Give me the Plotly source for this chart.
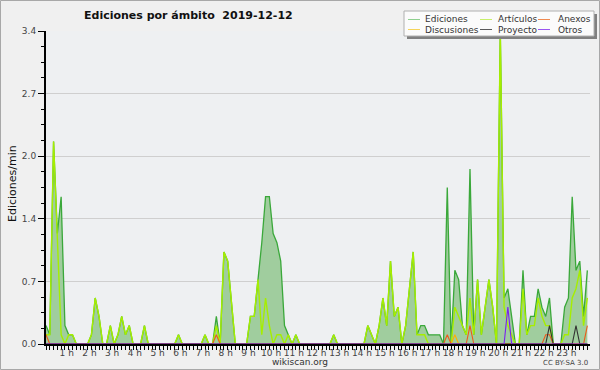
import plotly.graph_objects as go

# ---- data (10-minute steps, 0:00 .. 23:50) ----
ediciones = [0.2, 0.1, 2.2, 1.2, 1.6, 0.2, 0.1, 0.1, 0, 0, 0, 0,
             0.1, 0.5, 0.3, 0, 0, 0.2, 0, 0.1, 0.3, 0.1, 0.2, 0,
             0, 0, 0.2, 0, 0, 0, 0, 0, 0, 0, 0, 0.1,
             0, 0, 0, 0, 0, 0, 0.1, 0, 0, 0.3, 0, 1.0,
             0.9, 0.4, 0, 0, 0, 0, 0.3, 0.3, 0.7, 1.1, 1.6, 1.6,
             1.2, 1.1, 0.9, 0.2, 0.1, 0, 0.1, 0, 0, 0, 0, 0,
             0, 0, 0, 0, 0.1, 0, 0, 0, 0, 0, 0, 0,
             0, 0.2, 0.1, 0, 0.2, 0.5, 0.2, 0.9, 0.3, 0.4, 0, 0.2,
             0.6, 1.0, 0.1, 0.2, 0.2, 0.1, 0.1, 0.1, 0.1, 0, 1.7, 0,
             0.8, 0.7, 0.2, 0.1, 1.9, 0.1, 0.7, 0.1, 0.4, 0.7, 0.4, 0,
             3.4, 0.5, 0.6, 0.3, 0, 0, 0.8, 0.1, 0.3, 0.3, 0.6, 0.4,
             0.3, 0.5, 0, 0, 0, 0.4, 0.5, 1.6, 0.8, 0.9, 0.3, 0.8]
articulos = [0.1, 0.1, 2.2, 1.1, 0.1, 0, 0.1, 0.1, 0, 0, 0, 0,
             0.1, 0.5, 0.3, 0, 0, 0.2, 0, 0.1, 0.3, 0.1, 0.2, 0,
             0, 0, 0.2, 0, 0, 0, 0, 0, 0, 0, 0, 0.1,
             0, 0, 0, 0, 0, 0, 0.1, 0, 0, 0.2, 0, 1.0,
             0.9, 0.4, 0, 0, 0, 0, 0.3, 0.3, 0.7, 0.1, 0.5, 0.2,
             0, 0.1, 0.1, 0, 0.1, 0, 0.1, 0, 0, 0, 0, 0,
             0, 0, 0, 0, 0.1, 0, 0, 0, 0, 0, 0, 0,
             0, 0.2, 0.1, 0, 0.2, 0.5, 0.2, 0.9, 0.3, 0.4, 0, 0.2,
             0.6, 1.0, 0.1, 0.1, 0.1, 0, 0, 0, 0, 0, 0, 0,
             0.4, 0.3, 0.2, 0.1, 0.5, 0.1, 0.7, 0.1, 0.4, 0.7, 0.4, 0,
             3.4, 0.4, 0.2, 0.1, 0, 0, 0.6, 0.1, 0.2, 0.2, 0.5, 0.3,
             0.2, 0.2, 0, 0, 0, 0.1, 0.1, 0.5, 0.6, 0.8, 0.2, 0.5]
anexos = [0.0] * 144
for k, v in {0: 0.1, 45: 0.1, 106: 0.1, 112: 0.2, 132: 0.1, 133: 0.1, 143: 0.2}.items():
    anexos[k] = v
discusiones = [0.0] * 144
for k, v in {108: 0.1}.items():
    discusiones[k] = v
proyecto = [0.0] * 144
for k, v in {133: 0.2, 140: 0.2}.items():
    proyecto[k] = v
otros = [0.0] * 144
for k, v in {122: 0.4}.items():
    otros[k] = v

hours = [i / 6 for i in range(144)]
hour_ticks = list(range(1, 24))
hour_labels = [f"{h} h" for h in hour_ticks]
y_ticks = [0, 0.68, 1.36, 2.04, 2.72, 3.4]
y_labels = ["0.0", "0.7", "1.4", "2.0", "2.7", "3.4"]

legend_items = [("Ediciones", "#8fd08f"), ("Artículos", "#c8f06a"), ("Anexos", "#f08a50"),
                ("Discusiones", "#f5d45a"), ("Proyecto", "#5a5a5a"), ("Otros", "#9a55f0")]

FONT = "DejaVu Sans"
W, H = 600, 370
L, R, T, B = 46, 10, 31, 26
PW, PH = W - L - R, H - T - B


def px(x):
    return (x - L) / PW


def py(y):
    return (H - B - y) / PH


fig = go.Figure()
fig.add_trace(go.Scatter(x=hours, y=ediciones, mode="lines", fill="tozeroy",
                         line=dict(color="#3aa83a", width=1.3), fillcolor="#a0cd9e",
                         name="Ediciones", showlegend=False))
fig.add_trace(go.Scatter(x=hours, y=articulos, mode="lines",
                         line=dict(color="#a6ee00", width=1.4),
                         name="Artículos", showlegend=False))
fig.add_trace(go.Scatter(x=hours, y=discusiones, mode="lines",
                         line=dict(color="#ffb000", width=1.1),
                         name="Discusiones", showlegend=False))
fig.add_trace(go.Scatter(x=hours, y=anexos, mode="lines",
                         line=dict(color="#ee5a1a", width=1.1),
                         name="Anexos", showlegend=False))
fig.add_trace(go.Scatter(x=hours, y=proyecto, mode="lines",
                         line=dict(color="#333333", width=1.1),
                         name="Proyecto", showlegend=False))
fig.add_trace(go.Scatter(x=hours, y=otros, mode="lines",
                         line=dict(color="#7a22ee", width=1.1),
                         name="Otros", showlegend=False))

shapes = []
annotations = []
# outer border
shapes.append(dict(type="rect", xref="paper", yref="paper", x0=px(0.5), x1=px(W - 0.5),
                   y0=py(H - 0.5), y1=py(0.5), line=dict(color="#a8a8a8", width=1),
                   fillcolor="rgba(0,0,0,0)", layer="above"))
# legend box with shadow
shapes.append(dict(type="rect", xref="paper", yref="paper", x0=px(407), x1=px(597),
                   y0=py(39), y1=py(14), line=dict(width=0), fillcolor="#808080", layer="above"))
shapes.append(dict(type="rect", xref="paper", yref="paper", x0=px(404), x1=px(594),
                   y0=py(36), y1=py(11), line=dict(color="#b0b0b0", width=1),
                   fillcolor="#fbfbfb", layer="above"))
cols = [(408, 423), (480, 496), (538, 556)]
rows = [19.5, 29.5]
for idx, (label, color) in enumerate(legend_items):
    r, c = divmod(idx, 3)
    lx, tx = cols[c]
    yy = rows[r]
    shapes.append(dict(type="line", xref="paper", yref="paper", x0=px(lx), x1=px(lx + 12),
                       y0=py(yy), y1=py(yy), line=dict(color=color, width=1), layer="above"))
    annotations.append(dict(text=label, xref="paper", yref="paper", x=px(tx), y=py(yy),
                            xanchor="left", yanchor="middle", showarrow=False,
                            font=dict(family=FONT, size=9, color="#333333")))

annotations.append(dict(text="<b>Ediciones por ámbito\u00a0\u00a02019-12-12</b>", xref="paper", yref="paper",
                        x=px(188), y=py(15), xanchor="center", yanchor="middle", showarrow=False,
                        font=dict(family=FONT, size=11, color="#111111")))
annotations.append(dict(text="wikiscan.org", xref="paper", yref="paper", x=px(300), y=py(362),
                        xanchor="center", yanchor="middle", showarrow=False,
                        font=dict(family=FONT, size=9, color="#333333")))
annotations.append(dict(text="CC BY-SA 3.0", xref="paper", yref="paper", x=px(590), y=py(363),
                        xanchor="right", yanchor="middle", showarrow=False,
                        font=dict(family=FONT, size=7, color="#444444")))
annotations.append(dict(text="Ediciones/min", xref="paper", yref="paper", x=px(12), y=py(184),
                        xanchor="center", yanchor="middle", showarrow=False, textangle=-90,
                        font=dict(family=FONT, size=11, color="#111111")))

fig.update_layout(
    template="none",
    width=W, height=H,
    margin=dict(l=L, r=R, t=T, b=B, pad=0, autoexpand=False),
    paper_bgcolor="#f0f0f0", plot_bgcolor="#eef0f2",
    showlegend=False, hovermode=False,
    shapes=shapes, annotations=annotations,
    xaxis=dict(range=[0, 23.95], tickmode="array", tickvals=hour_ticks, ticktext=hour_labels,
               automargin=False, ticklabelstandoff=-5, ticklabelshift=-2,
               ticks="outside", ticklen=4, tickcolor="#000", tickwidth=1,
               showline=True, linecolor="#000", linewidth=2, showgrid=False, zeroline=False,
               tickfont=dict(family=FONT, size=9, color="#444"),
               minor=dict(tickmode="linear", tick0=0, dtick=1 / 6, ticks="outside", ticklen=4,
                          tickcolor="#000", tickwidth=1, showgrid=False)),
    yaxis=dict(range=[0, 3.4], tickmode="array", tickvals=y_ticks, ticktext=y_labels,
               automargin=False,
               ticks="outside", ticklen=6, tickcolor="#000", tickwidth=1,
               showline=True, linecolor="#000", linewidth=2, showgrid=True,
               gridcolor="#cfcfcf", gridwidth=1, zeroline=False,
               tickfont=dict(family=FONT, size=9, color="#444"),
               minor=dict(tickmode="linear", tick0=0, dtick=0.17, ticks="outside", ticklen=3,
                          tickcolor="#000", tickwidth=1, showgrid=False)),
)

fig.write_html("out.html", config={"displayModeBar": False},
               post_script="document.body.style.margin='0';document.body.style.overflow='hidden';")
